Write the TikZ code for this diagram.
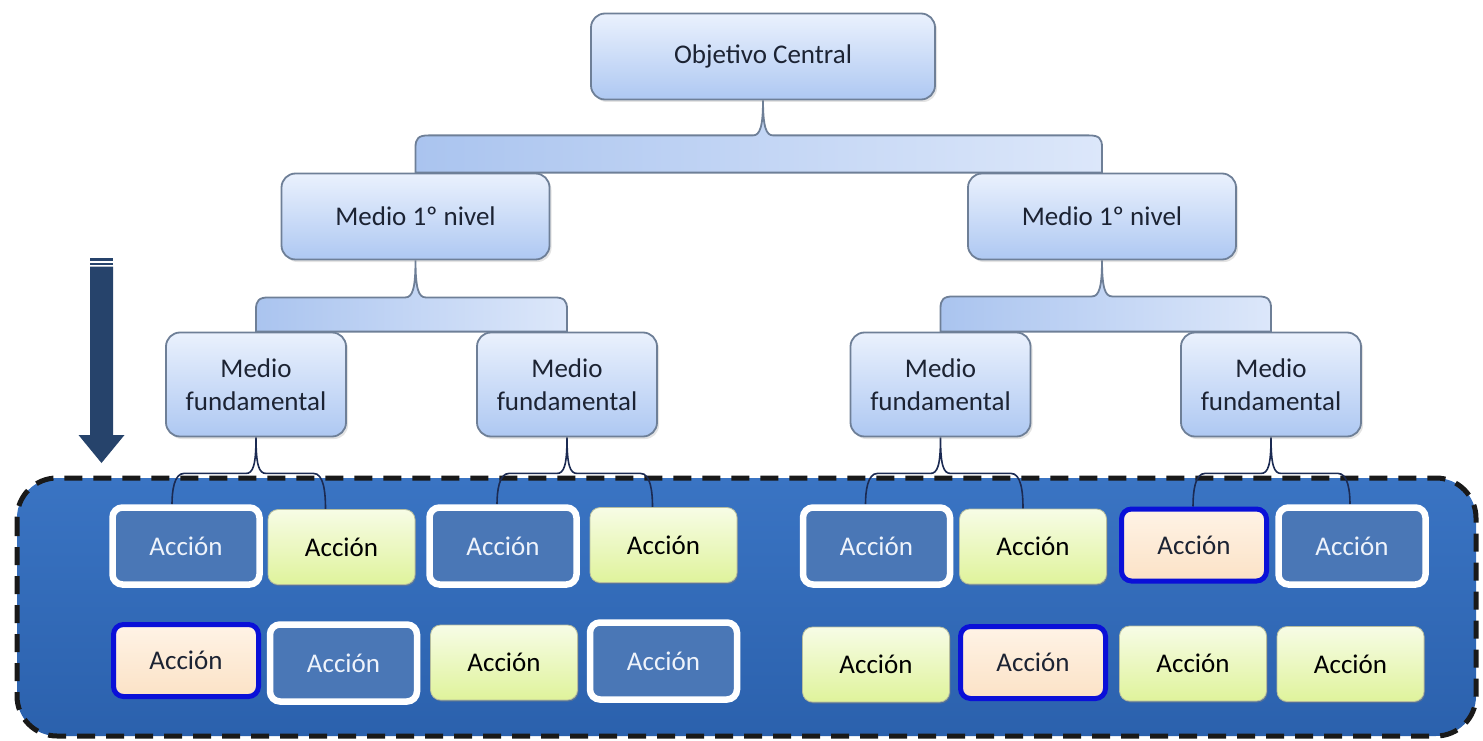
\documentclass[tikz,border=0pt]{standalone}
\usepackage{fontspec}
\setmainfont{Carlito}
\usetikzlibrary{shadows,calc}

\definecolor{nodeTop}{HTML}{EAF1FD}
\definecolor{nodeBot}{HTML}{AEC8F2}
\definecolor{nodeLine}{HTML}{6E7F97}
\definecolor{bandL}{HTML}{AAC4EF}
\definecolor{bandR}{HTML}{DCE7FA}
\definecolor{panelTop}{HTML}{3A74C3}
\definecolor{panelBot}{HTML}{2B61AD}
\definecolor{actBlue}{HTML}{4A77B6}
\definecolor{actText}{HTML}{EEF3FB}
\definecolor{greenTop}{HTML}{F7FCE6}
\definecolor{greenBot}{HTML}{DFF39B}
\definecolor{peachTop}{HTML}{FFF3E6}
\definecolor{peachBot}{HTML}{FBE2C6}
\definecolor{royal}{HTML}{0A10D8}
\definecolor{navy}{HTML}{1B2A52}
\definecolor{arrowFill}{HTML}{26436B}
\definecolor{ink}{HTML}{1C2333}

\pgfdeclarelayer{bottom}
\pgfdeclarelayer{back}
\pgfsetlayers{bottom,back,main}

% filled brace joining a parent box to its two children
\newcommand{\bracketband}[4]{%
  \path[band] let \p1=(#1.south), \p2=(#2.north), \p3=(#3.north),
                  \p4=($(#1.south)+(0,#4)$) in
    (\x2,\y2) -- (\x2,\y4-12pt)
    .. controls (\x2,\y4-3pt) and (\x2+3pt,\y4) .. (\x2+13pt,\y4)
    -- (\x1-10pt,\y4)
    .. controls (\x1-3pt,\y4) and (\x1,\y4+9pt) .. (\x1,\y1)
    .. controls (\x1,\y4+9pt) and (\x1+3pt,\y4) .. (\x1+10pt,\y4)
    -- (\x3-13pt,\y4)
    .. controls (\x3-3pt,\y4) and (\x3,\y4-3pt) .. (\x3,\y4-12pt)
    -- (\x3,\y3) -- cycle;}

% thin brace from a box down to two actions
\newcommand{\actbracket}[5]{%
  \draw[thinbrace] let \p1=(#1.south), \p2=($(#2.north)+(#4,0)$),
                  \p3=($(#3.north)+(#5,0)$), \p4=($(#1.south)+(0,36)$) in
    (\x2,\y2)
    .. controls (\x2,\y4-18pt) and (\x2+2pt,\y4) .. (\x2+12pt,\y4)
    -- (\x1-10pt,\y4)
    .. controls (\x1-3pt,\y4) and (\x1,\y4+8pt) .. (\x1,\y1)
    .. controls (\x1,\y4+8pt) and (\x1+3pt,\y4) .. (\x1+10pt,\y4)
    -- (\x3-12pt,\y4)
    .. controls (\x3-2pt,\y4) and (\x3,\y4-18pt) .. (\x3,\y3);}

\begin{document}
\begin{tikzpicture}[x=1pt,y=-1pt,
  font=\fontsize{27}{33}\selectfont,
  upper/.style={draw=nodeLine, line width=1.8pt, rounded corners=14pt,
    top color=nodeTop, bottom color=nodeBot, text=ink, align=center,
    inner sep=0pt,
    drop shadow={opacity=0.22, shadow xshift=2pt, shadow yshift=-2.5pt}},
  band/.style={draw=nodeLine, line width=1.8pt, left color=bandL,
    right color=bandR},
  thinbrace/.style={draw=navy, line width=1.6pt},
  panel/.style={draw=black!90, line width=5pt, dash pattern=on 18pt off 11pt,
    rounded corners=40pt, top color=panelTop, bottom color=panelBot},
  actblue/.style={draw=white, line width=6.5pt, fill=actBlue, text=actText,
    rounded corners=10pt, minimum width=147pt, minimum height=77pt,
    inner sep=0pt},
  actgreen/.style={draw=greenBot!60!black!60, line width=0.8pt,
    top color=greenTop, bottom color=greenBot, text=black,
    rounded corners=10pt, minimum width=147pt, minimum height=75pt,
    inner sep=0pt,
    drop shadow={opacity=0.45, shadow xshift=1pt, shadow yshift=-1.5pt}},
  actpeach/.style={draw=royal, line width=5pt, top color=peachTop,
    bottom color=peachBot, text=ink, rounded corners=10pt,
    minimum width=145pt, minimum height=72pt, inner sep=0pt},
  downarrow/.style={fill=arrowFill}]

\useasboundingbox (0,0) rectangle (1483,741);

% top of the hierarchy
\node[upper, minimum width=344pt, minimum height=86pt] (obj) at (763,56.5)
  {Objetivo Central};

% first level means
\node[upper, minimum width=268pt, minimum height=86pt] (m1) at (415.5,216.5)
  {Medio 1º nivel};
\node[upper, minimum width=268pt, minimum height=86pt] (m2) at (1102,216.5)
  {Medio 1º nivel};

% fundamental means
\foreach \n/\x in {f1/256, f2/567, f3/940.5, f4/1271}
  \node[upper, minimum width=180pt, minimum height=104pt] (\n) at (\x,384.5)
    {Medio\\fundamental};

% actions, upper row
\node[actblue]  (a11) at (186,546) {Acción};
\node[actgreen] (a12) at (341.5,547) {Acción};
\node[actblue]  (a13) at (503,546) {Acción};
\node[actgreen] (a14) at (663.5,545) {Acción};
\node[actblue]  (a15) at (876.5,546) {Acción};
\node[actgreen] (a16) at (1033,546.5) {Acción};
\node[actpeach] (a17) at (1194,545) {Acción};
\node[actblue]  (a18) at (1352,546) {Acción};

% actions, lower row
\node[actpeach] (a21) at (186,660.5) {Acción};
\node[actblue]  (a22) at (343.5,663) {Acción};
\node[actgreen] (a23) at (504,662.5) {Acción};
\node[actblue]  (a24) at (663.5,661) {Acción};
\node[actgreen] (a25) at (876,664.5) {Acción};
\node[actpeach] (a26) at (1033,662.5) {Acción};
\node[actgreen] (a27) at (1193,663.5) {Acción};
\node[actgreen] (a28) at (1350.5,664) {Acción};

% dashed container behind the actions
\begin{pgfonlayer}{bottom}
  \path[panel] (17,478) rectangle (1476,736);
\end{pgfonlayer}

% braces between the levels
\begin{pgfonlayer}{back}
  \bracketband{obj}{m1}{m2}{35}
  \bracketband{m1}{f1}{f2}{37}
  \bracketband{m2}{f3}{f4}{36}
  \actbracket{f1}{a11}{a12}{-14}{-16}
  \actbracket{f2}{a13}{a14}{-6}{-11}
  \actbracket{f3}{a15}{a16}{-11}{-10}
  \actbracket{f4}{a17}{a18}{-1}{-2}
\end{pgfonlayer}

% downward arrow on the left
\fill[downarrow] (90,258) rectangle (113,260.5);
\fill[downarrow] (90,262.5) rectangle (113,264.5);
\fill[downarrow] (90,266.5) -- (113,266.5) -- (113,435) -- (124.5,435)
  -- (101.5,463) -- (78.5,435) -- (90,435) -- cycle;

\end{tikzpicture}
\end{document}
